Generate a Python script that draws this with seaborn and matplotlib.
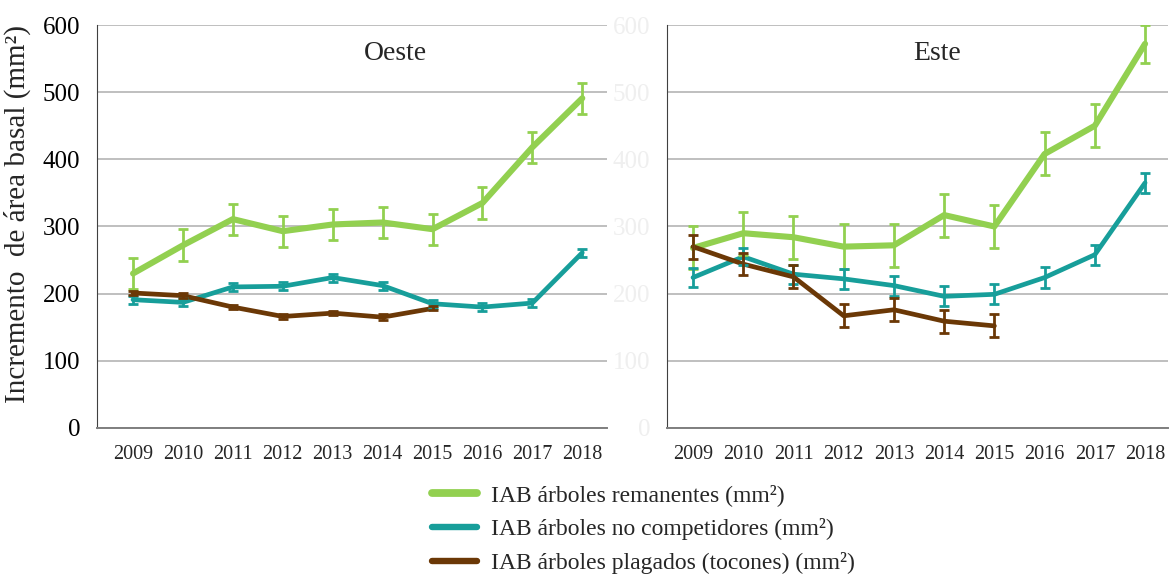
import numpy as np
import pandas as pd
import seaborn as sns
import matplotlib.pyplot as plt
from matplotlib.lines import Line2D

years = [2009, 2010, 2011, 2012, 2013, 2014, 2015, 2016, 2017, 2018]
year_labels = [str(y) for y in years]

# Oeste
oeste_rem = [230, 272, 311, 293, 303, 306, 296, 335, 418, 491]
oeste_rem_err = [23, 24, 23, 23, 23, 23, 23, 24, 23, 23]
oeste_noc = [191, 187, 210, 211, 224, 212, 185, 180, 186, 261]
oeste_noc_err = [6, 6, 6, 6, 6, 6, 6, 6, 6, 6]
oeste_plag = [201, 197, 180, 166, 171, 165, 178, np.nan, np.nan, np.nan]
oeste_plag_err = [3, 4, 3, 4, 3, 4, 3, np.nan, np.nan, np.nan]

# Este
este_rem = [268, 290, 284, 270, 272, 317, 300, 408, 450, 572]
este_rem_err = [32, 32, 32, 33, 32, 32, 32, 32, 32, 28]
este_noc = [224, 255, 229, 222, 212, 196, 199, 224, 258, 365]
este_noc_err = [14, 13, 14, 15, 15, 15, 15, 15, 15, 15]
este_plag = [270, 244, 225, 167, 176, 159, 152, np.nan, np.nan, np.nan]
este_plag_err = [18, 16, 17, 17, 17, 17, 17, np.nan, np.nan, np.nan]

labels = ['IAB árboles remanentes (mm²)',
          'IAB árboles no competidores (mm²)',
          'IAB árboles plagados (tocones) (mm²)']
colors = ['#92D050', '#179E9A', '#6B3806']
widths = [4.4, 3.4, 3.4]

sns.set_style('white')
plt.rcParams['font.family'] = ['Liberation Serif', 'DejaVu Serif']

fig = plt.figure(figsize=(11.7, 5.75), dpi=100)
ax1 = fig.add_axes([0.083, 0.2557, 0.436, 0.7008])
ax2 = fig.add_axes([0.570, 0.2557, 0.428, 0.7008])

panels = [
    (ax1, 'Oeste', 0.585, [oeste_rem, oeste_noc, oeste_plag],
     [oeste_rem_err, oeste_noc_err, oeste_plag_err], '#000000', (-0.72, 9.5)),
    (ax2, 'Este', 0.54, [este_rem, este_noc, este_plag],
     [este_rem_err, este_noc_err, este_plag_err], '#EFEFEF', (-0.52, 9.45)),
]

for ax, title, tx, series, errs, tick_col, xl in panels:
    x = np.arange(len(years))
    for vals, err, col, lw, lab in zip(series, errs, colors, widths, labels):
        df = pd.DataFrame({'x': x, 'y': vals}).dropna()
        sns.lineplot(data=df, x='x', y='y', ax=ax, color=col, linewidth=lw,
                     solid_capstyle='round', solid_joinstyle='round', zorder=3)
        ax.errorbar(x, vals, yerr=err, fmt='none', ecolor=col, elinewidth=2,
                    capsize=3.5, capthick=2, zorder=4)
    ax.set_ylim(0, 600)
    ax.set_xlim(*xl)
    ax.set_yticks([0, 100, 200, 300, 400, 500, 600])
    ax.set_xticks(x)
    ax.set_xticklabels(year_labels, fontsize=14.5)
    ax.tick_params(axis='y', labelsize=18, labelcolor=tick_col, length=7,
                   color='#7F7F7F', width=1.2, pad=5)
    ax.tick_params(axis='x', length=0, pad=12)
    ax.grid(axis='y', color='#BFBFBF', linewidth=1.4, zorder=0)
    ax.set_axisbelow(True)
    for s in ['top', 'right']:
        ax.spines[s].set_visible(False)
    ax.spines['left'].set_color('#404040')
    ax.spines['bottom'].set_color('#7F7F7F')
    ax.spines['bottom'].set_linewidth(1.4)
    ax.set_xlabel('')
    ax.set_ylabel('')
    ax.text(tx, 0.93, title, transform=ax.transAxes, ha='center', va='center',
            fontsize=20)

ax1.set_ylabel('Incremento  de área basal (mm²)', fontsize=21, labelpad=8)
ax1.yaxis.set_label_coords(-0.13, 0.53)

handles = [Line2D([], [], color=c, linewidth=w + 1.2, solid_capstyle='round')
           for c, w in zip(colors, widths)]
fig.legend(handles, labels, loc='lower center', bbox_to_anchor=(0.55, -0.035),
           frameon=False, fontsize=17, handlelength=1.9, labelspacing=0.5,
           handletextpad=0.6)

fig.savefig('out.png', dpi=100)
